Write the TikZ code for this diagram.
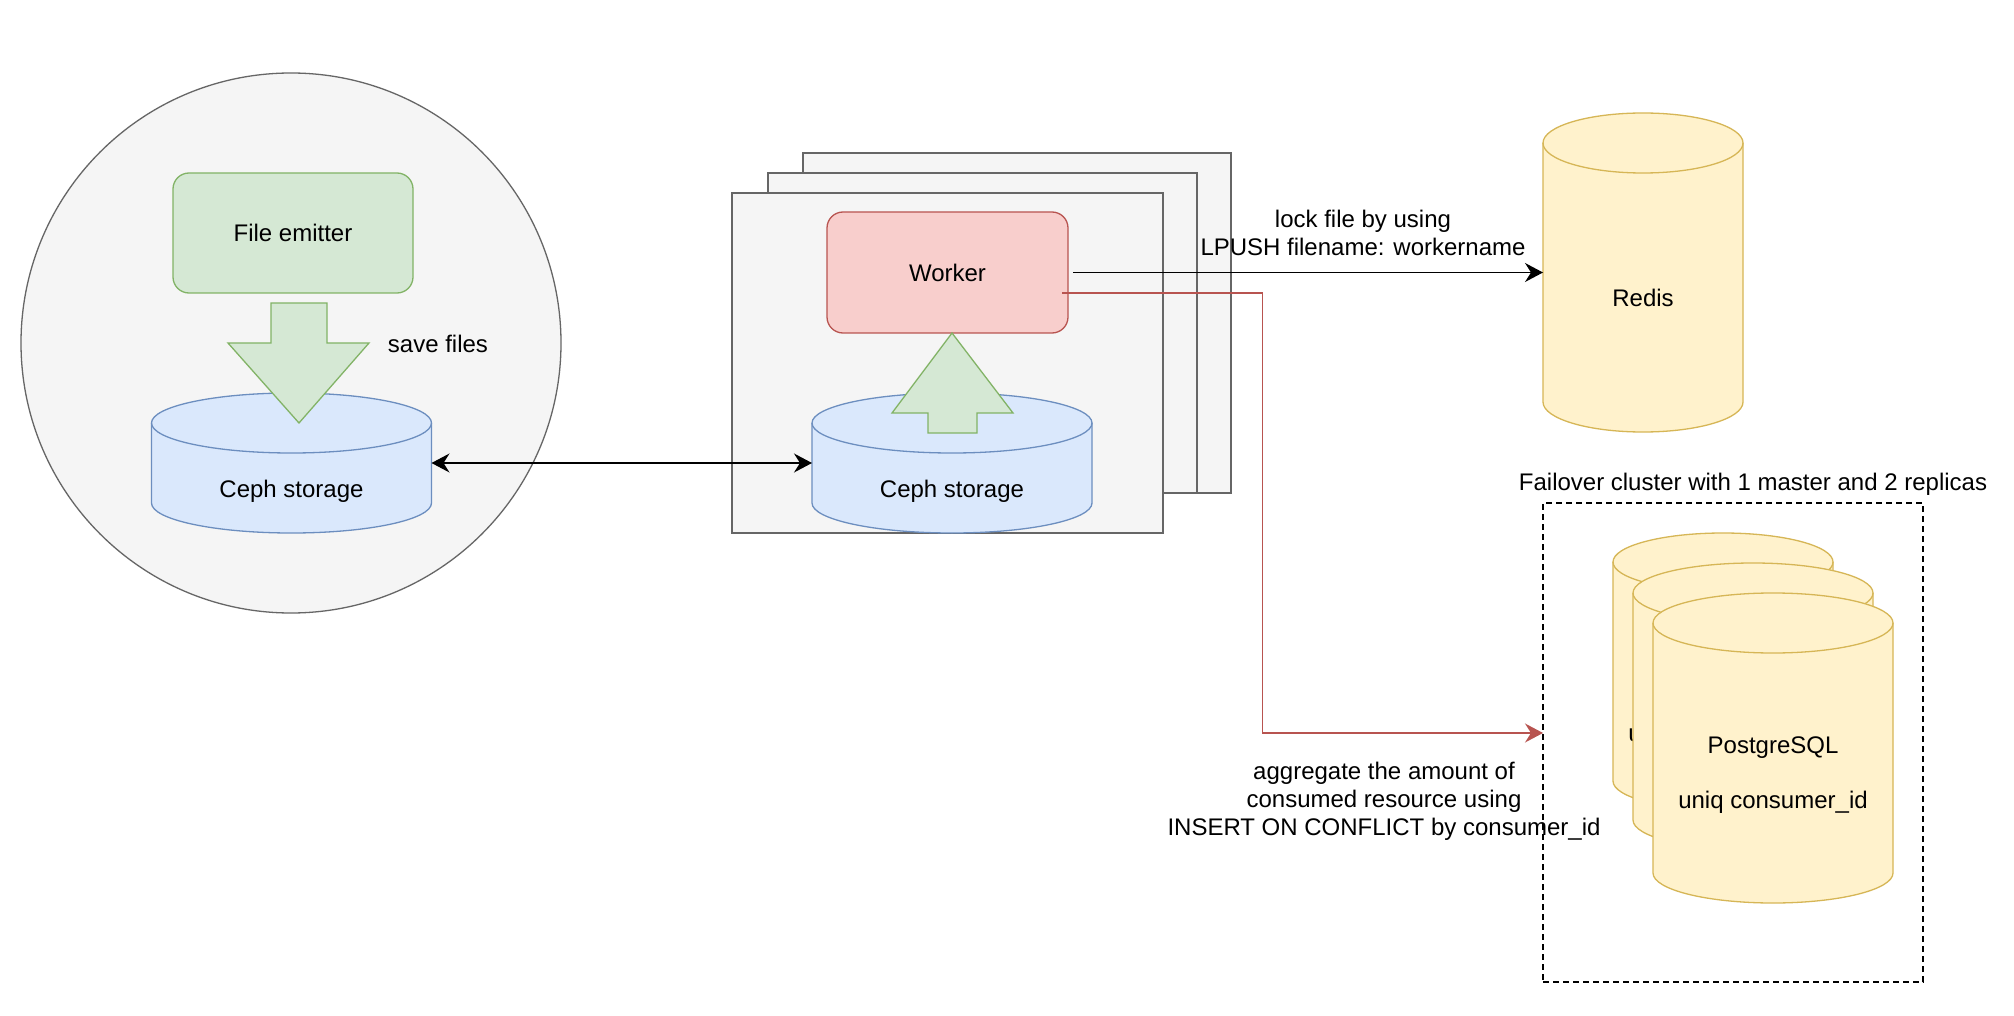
\documentclass[tikz,border=0pt]{standalone}
\usepackage{fontspec}
\setmainfont{Liberation Sans}
\usetikzlibrary{arrows.meta,calc}
\definecolor{gfill}{HTML}{D5E8D4}\definecolor{gline}{HTML}{82B366}
\definecolor{rfill}{HTML}{F8CECC}\definecolor{rline}{HTML}{B85450}
\definecolor{bfill}{HTML}{DAE8FC}\definecolor{bline}{HTML}{6C8EBF}
\definecolor{yfill}{HTML}{FFF2CC}\definecolor{yline}{HTML}{D6B656}
\definecolor{kfill}{HTML}{F5F5F5}\definecolor{kline}{HTML}{666666}
% #1 node name, #2 x radius, #3 y radius, #4 colour prefix
\newcommand\drawcyl[4]{%
  \path[fill=#4fill,draw=#4line] ($(#1.north west)+(0,-#3)$) -- ($(#1.south west)+(0,#3)$)
    arc[start angle=180,end angle=360,x radius=#2,y radius=#3]
    -- ($(#1.north east)+(0,-#3)$)
    arc[start angle=0,end angle=180,x radius=#2,y radius=#3] -- cycle;
  \draw[#4line] ($(#1.north west)+(0,-#3)$) arc[start angle=180,end angle=360,x radius=#2,y radius=#3];
}
\begin{document}
\begin{tikzpicture}[x=0.5pt,y=0.5pt,line width=0.65pt,
  font=\fontsize{12pt}{14pt}\selectfont,
  anchorbox/.style={inner sep=0pt,outer sep=0pt},
  greybox/.style={draw=kline,fill=kfill,inner sep=0pt,outer sep=0pt},
  roundbox/.style={rounded corners=8pt,inner sep=0pt,outer sep=0pt},
  lbl/.style={inner sep=0pt,align=center},
  tip/.style={-{Stealth[length=9pt,width=9.5pt,inset=3pt]}},
  bitip/.style={{Stealth[length=9pt,width=9.5pt,inset=3pt]}-{Stealth[length=9pt,width=9.5pt,inset=3pt]}}]
\fill[white] (0,0) rectangle (2014,-1016);
\useasboundingbox (0,0) rectangle (2014,-1016);

% host circle
\node[circle,draw=kline,fill=kfill,minimum size=270pt,inner sep=0pt] (host) at (291,-343) {};
\node[roundbox,draw=gline,fill=gfill,minimum width=120pt,minimum height=60pt] (emitter) at (293,-233) {File emitter};
\node[anchorbox,minimum width=140pt,minimum height=70pt] (ceph1) at (291.5,-463) {};
\drawcyl{ceph1}{140}{30}{b}
\node[lbl] (ceph1t) at (291.5,-491.5) {Ceph storage};
\draw[gline,fill=gfill] (271,-303) -- (327,-303) -- (327,-343) -- (369,-343) -- (299,-423) -- (228,-343) -- (271,-343) -- cycle;
\node[lbl] (save) at (438,-344) {save files};

% worker stack
\node[greybox,minimum width=214pt,minimum height=170pt] (stack3) at (1017,-323) {};
\node[greybox,minimum width=214.5pt,minimum height=160pt] (stack2) at (982.5,-333) {};
\node[greybox,minimum width=215.5pt,minimum height=170pt] (stack1) at (947.5,-363) {};
\node[roundbox,draw=rline,fill=rfill,minimum width=120.5pt,minimum height=60.5pt] (worker) at (947.5,-272.5) {Worker};
\node[anchorbox,minimum width=140pt,minimum height=70pt] (ceph2) at (952,-463) {};
\drawcyl{ceph2}{140}{30}{b}
\node[lbl] (ceph2t) at (952,-491.5) {Ceph storage};
\draw[gline,fill=gfill] (928,-433) -- (977,-433) -- (977,-413) -- (1013,-413) -- (952,-333) -- (892,-413) -- (928,-413) -- cycle;

% redis
\node[anchorbox,minimum width=100pt,minimum height=159.5pt] (redis) at (1643,-272.5) {};
\drawcyl{redis}{100}{30}{y}
\node[lbl] (redist) at (1643,-298) {Redis};

% postgres cluster
\node[draw=black,dash pattern=on 3pt off 2pt,inner sep=0pt,outer sep=0pt,minimum width=190pt,minimum height=239.5pt] (cluster) at (1733,-742.5) {};
\node[lbl] (clusterlbl) at (1753,-484.5) {Failover cluster with 1 master and 2 replicas};
\node[anchorbox,minimum width=110pt,minimum height=138.5pt] (pg3) at (1723,-671.5) {};
\drawcyl{pg3}{110}{29}{y}
\begin{scope}
\clip (1613,-700) rectangle (1633,-770);
\node[lbl] (pg3t) at (1723,-735.5) {uniq consumer\_id};
\end{scope}
\node[anchorbox,minimum width=120pt,minimum height=143.5pt] (pg2) at (1753,-706.5) {};
\drawcyl{pg2}{120}{30}{y}
\node[anchorbox,minimum width=120pt,minimum height=155pt] (pg1) at (1773,-748) {};
\drawcyl{pg1}{120}{30}{y}
\node[lbl] (pg1a) at (1773,-747.5) {PostgreSQL};
\node[lbl] (pg1b) at (1773,-802.5) {uniq consumer\_id};

% connectors
\draw[bitip] (ceph1.east) -- (ceph2.west);
\draw[tip] ([xshift=2.5pt]worker.east) -- (redis.west);
\coordinate (pgin) at ([yshift=4.75pt]cluster.west);
\draw[tip,rline] ([xshift=-3pt,yshift=-10.25pt]worker.east) -- ++(200.5,0) |- (pgin);

% labels
\node[lbl] (locklbl) at (1363,-233) {lock file by using\\LPUSH filename: workername};
\node[lbl] (agglbl) at (1384,-801.5) {aggregate the amount of\\consumed resource using\\INSERT ON CONFLICT by consumer\_id};
\end{tikzpicture}
\end{document}
